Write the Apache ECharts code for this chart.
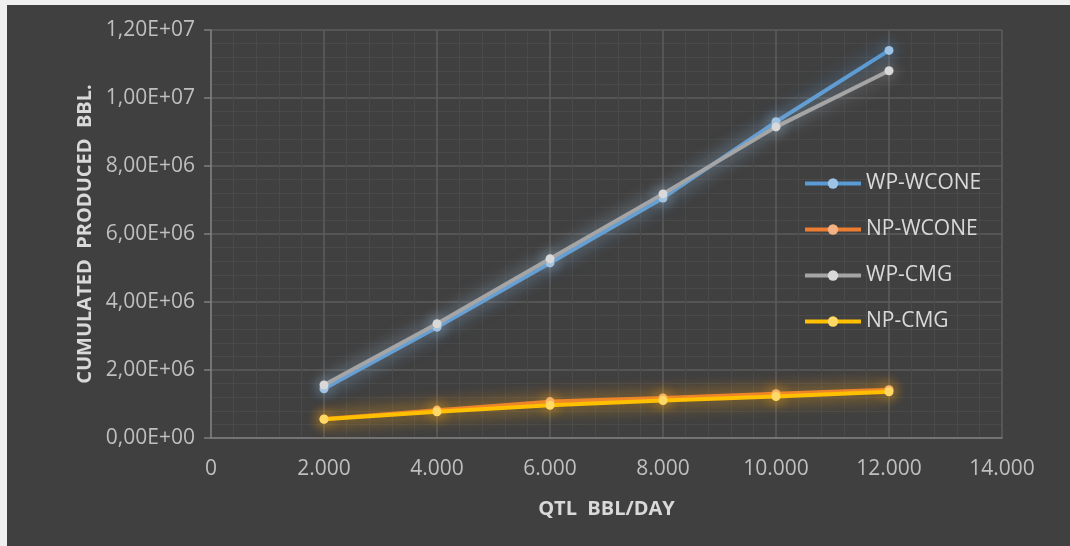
<!doctype html>
<html>
<head>
<meta charset="UTF-8">
<title>Cumulated produced</title>
<style>
  html, body { margin: 0; padding: 0; background: #f0f0f0; }
  #main { position: absolute; left: 7px; top: 5px; width: 1063px; height: 541px; background: #404040; }
</style>
<script src="https://cdn.jsdelivr.net/npm/echarts@6/dist/echarts.min.js"></script>
</head>
<body>
<div id="main"></div>
<script>
// QTL (bbl/day)
var qtl = [2000, 4000, 6000, 8000, 10000, 12000];
// cumulated produced bbl per case
var wpWcone = [1.45e6, 3.26e6, 5.15e6, 7.06e6, 9.3e6, 11.4e6];
var npWcone = [0.56e6, 0.82e6, 1.07e6, 1.18e6, 1.3e6, 1.42e6];
var wpCmg   = [1.56e6, 3.36e6, 5.27e6, 7.18e6, 9.15e6, 10.8e6];
var npCmg   = [0.55e6, 0.77e6, 0.96e6, 1.1e6, 1.22e6, 1.36e6];

var names = ['WP-WCONE', 'NP-WCONE', 'WP-CMG', 'NP-CMG'];
var values = [wpWcone, npWcone, wpCmg, npCmg];
var lineColors = ['#5b9bd5', '#ed7d31', '#a5a5a5', '#ffc000'];
var dotColors = ['#9dc3e6', '#f4b183', '#d9d9d9', '#ffd966'];
var glowColors = ['rgba(91,155,213,0.8)', 'rgba(237,125,49,0.7)', 'rgba(200,200,200,0.6)', 'rgba(255,192,0,0.8)'];

function sciLabel(v) {
  if (v === 0) return '0,00E+00';
  var e = Math.floor(Math.log10(v));
  var m = (v / Math.pow(10, e)).toFixed(2).replace('.', ',');
  return m + 'E+' + (e < 10 ? '0' + e : e);
}
function thousands(v) {
  return String(v).replace(/\B(?=(\d{3})+(?!\d))/g, '.');
}

var series = [];
for (var i = 0; i < names.length; i++) {
  var pts = [];
  for (var j = 0; j < qtl.length; j++) pts.push([qtl[j], values[i][j]]);
  series.push({
    name: names[i],
    type: 'line',
    data: pts,
    symbol: 'circle',
    symbolSize: 9,
    z: i == 1 ? 2 : 3 + i,
    lineStyle: { color: lineColors[i], width: 4, shadowBlur: 18, shadowColor: glowColors[i] },
    itemStyle: { color: dotColors[i], shadowBlur: 14, shadowColor: glowColors[i] }
  });
}

var font = "'Open Sans', 'Noto Sans', sans-serif";
var myChart = echarts.init(document.getElementById('main'));
myChart.setOption({
  animation: false,
  textStyle: { fontFamily: font },
  grid: { left: 204, right: 68, top: 25, bottom: 108, containLabel: false },
  legend: {
    orient: 'vertical',
    left: 791,
    top: 163,
    itemWidth: 56,
    itemHeight: 13,
    itemGap: 25,
    data: names,
    lineStyle: { width: 4, shadowBlur: 0 },
    itemStyle: { shadowBlur: 0 },
    textStyle: { color: '#d9d9d9', fontSize: 21, fontFamily: font }
  },
  xAxis: {
    type: 'value',
    min: 0, max: 14000, interval: 2000,
    name: 'QTL  BBL/DAY',
    nameLocation: 'middle',
    nameGap: 61,
    nameTextStyle: { color: '#d9d9d9', fontSize: 20, fontWeight: 'bold', fontFamily: font },
    axisLine: { show: true, lineStyle: { color: '#7f7f7f', width: 1.5 } },
    axisTick: { show: false },
    axisLabel: { color: '#bfbfbf', fontSize: 21, margin: 21, formatter: thousands },
    splitLine: { show: true, lineStyle: { color: '#5c5c5c', width: 1.5 } },
    minorTick: { show: false, splitNumber: 5 },
    minorSplitLine: { show: true, lineStyle: { color: '#4a4a4a', width: 1 } }
  },
  yAxis: {
    type: 'value',
    min: 0, max: 12000000, interval: 2000000,
    name: 'CUMULATED  PRODUCED  BBL.',
    nameLocation: 'middle',
    nameGap: 116,
    nameTextStyle: { color: '#d9d9d9', fontSize: 20, fontWeight: 'bold', fontFamily: font },
    axisLine: { show: true, lineStyle: { color: '#7f7f7f', width: 1.5 } },
    axisTick: { show: true, length: 7, lineStyle: { color: '#7f7f7f', width: 1.5 } },
    axisLabel: { color: '#bfbfbf', fontSize: 21, margin: 16, formatter: sciLabel },
    splitLine: { show: true, lineStyle: { color: '#5c5c5c', width: 1.5 } },
    minorTick: { show: false, splitNumber: 5 },
    minorSplitLine: { show: true, lineStyle: { color: '#4a4a4a', width: 1 } }
  },
  series: series
});
</script>
</body>
</html>
